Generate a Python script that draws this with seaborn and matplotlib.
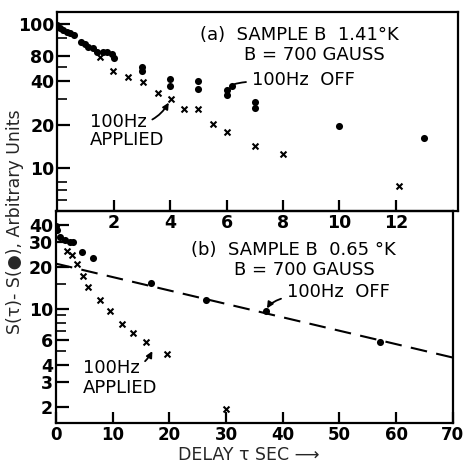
import numpy as np
import pandas as pd
import matplotlib
matplotlib.use("Agg")
import matplotlib.pyplot as plt
import seaborn as sns
from matplotlib.ticker import FixedLocator, FixedFormatter, NullFormatter

# --- data ---
# (a) sample B, 1.41 K, 100 Hz off (dots)
a_off_x = [0.0, 0.09, 0.19, 0.34, 0.44, 0.58, 0.83, 0.97, 1.08, 1.26, 1.4, 1.61, 1.75, 1.93, 2.0,
           3.0, 3.0, 4.0, 4.0, 5.0, 5.0, 6.0, 6.0, 6.2, 7.0, 7.0, 10.0, 13.0]
a_off_y = [98, 93.8, 90.9, 88, 86.6, 83.9, 75, 72.6, 69.2, 68.1, 63.9, 63.9, 63.9, 61.9, 58,
           50.3, 47.2, 41.5, 37.1, 40.1, 35.4, 32.1, 34.8, 37.1, 28.7, 26.1, 19.6, 16.2]
# (a) 100 Hz applied (crosses)
a_app_x = [1.5, 1.96, 2.5, 3.03, 3.56, 4.02, 4.48, 5.0, 5.5, 6.03, 6.99, 8.0, 12.1]
a_app_y = [59, 47.2, 42.9, 39.5, 33.2, 30.1, 25.7, 25.7, 20.2, 17.8, 14.2, 12.5, 7.5]

# (b) sample B, 0.65 K, 100 Hz off (dots)
b_off_x = [0.0, 0.18, 0.7, 1.6, 2.5, 3.0, 4.6, 6.5, 16.8, 26.4, 37.0, 57.2]
b_off_y = [39, 36.7, 32.7, 31.1, 30.1, 30.1, 25.5, 23.1, 15.3, 11.6, 9.7, 5.8]
# (b) 100 Hz applied (crosses)
b_app_x = [1.9, 2.8, 3.7, 4.8, 5.7, 7.8, 9.6, 11.7, 13.6, 15.8, 19.6, 29.9]
b_app_y = [26.0, 24.3, 21.0, 17.2, 14.4, 11.6, 9.7, 7.8, 6.7, 5.8, 4.8, 1.93]
# (b) dashed exponential through the "off" points
b_fit_x = [0, 70]
b_fit_y = [21.1, 4.5]

a_xticks = [2, 4, 6, 8, 10, 12]
a_yticks = [10, 20, 40, 60, 100]
a_ylabels = ["10", "20", "40", "80", "100"]
a_yminor = [6, 7, 8, 30, 50, 80]
b_xticks = [0, 10, 20, 30, 40, 50, 60, 70]
b_yticks = [2, 3, 4, 6, 10, 20, 30, 40]
b_yminor = [5, 7, 8, 9, 15]

sns.set_style("ticks")
plt.rcParams['font.family'] = ['DejaVu Sans']

fig = plt.figure(figsize=(4.63, 4.66), dpi=100)
ax_a = fig.add_axes([0.124, 0.547, 0.865, 0.427])
ax_b = fig.add_axes([0.121, 0.092, 0.857, 0.455])
# keep (a)'s x tick labels visible over (b)
ax_a.set_zorder(3)
ax_a.patch.set_alpha(0)

for ax in (ax_a, ax_b):
    ax.set_yscale('log')
    for sp in ax.spines.values():
        sp.set_linewidth(1.6)
        sp.set_color('black')
    ax.tick_params(which='major', direction='in', length=9, width=1.6,
                   labelsize=12.5, colors='black', pad=2)
    ax.tick_params(which='minor', direction='in', length=7, width=1.4)
    ax.tick_params(axis='x', which='major', length=8)

# --- panel (a) ---
sns.scatterplot(x=a_off_x, y=a_off_y, ax=ax_a, color='black', marker='o', s=26,
                edgecolor='black', linewidth=0, zorder=3)
sns.scatterplot(x=a_app_x, y=a_app_y, ax=ax_a, color='black', marker='x', s=18,
                linewidth=1.5, zorder=3)
ax_a.set_xlim(0, 14.2)
ax_a.set_ylim(5.0, 121)
ax_a.set_xticks(a_xticks)
ax_a.set_xticklabels([str(t) for t in a_xticks], fontweight='bold')
ax_a.yaxis.set_major_locator(FixedLocator(a_yticks))
ax_a.yaxis.set_major_formatter(FixedFormatter(a_ylabels))
ax_a.yaxis.set_minor_locator(FixedLocator(a_yminor))
ax_a.yaxis.set_minor_formatter(NullFormatter())
for lab in ax_a.get_yticklabels():
    lab.set_fontweight('bold')
ax_a.set_xlabel('')
ax_a.set_ylabel('')

txt = dict(fontsize=13, color='black', va='center', ha='left')
ax_a.text(0.355, 0.884, "(a)  SAMPLE B  1.41°K", transform=ax_a.transAxes, **txt)
ax_a.text(0.466, 0.784, "B = 700 GAUSS", transform=ax_a.transAxes, **txt)
ax_a.annotate("100Hz  OFF", xy=(a_off_x[23], a_off_y[23]), xytext=(0.486, 0.658),
              textcoords='axes fraction', **txt,
              arrowprops=dict(arrowstyle='-', color='black', lw=1.3,
                              connectionstyle='angle3,angleA=0,angleB=80', shrinkB=2))
ax_a.annotate("100Hz", xy=(a_app_x[5], a_app_y[5]), xytext=(0.081, 0.447),
              textcoords='axes fraction', **txt,
              arrowprops=dict(arrowstyle='-|>', color='black', lw=1.3, mutation_scale=9,
                              connectionstyle='arc3,rad=0.4', shrinkB=3))
ax_a.text(0.081, 0.357, "APPLIED", transform=ax_a.transAxes, **txt)

# --- panel (b) ---
sns.lineplot(x=b_fit_x, y=b_fit_y, ax=ax_b, color='black', linewidth=1.5, zorder=2)
ax_b.lines[-1].set_dashes((8, 4.5))
sns.scatterplot(x=b_off_x, y=b_off_y, ax=ax_b, color='black', marker='o', s=26,
                edgecolor='black', linewidth=0, zorder=3)
sns.scatterplot(x=b_app_x, y=b_app_y, ax=ax_b, color='black', marker='x', s=18,
                linewidth=1.5, zorder=3)
ax_b.set_xlim(0, 70)
ax_b.set_ylim(1.53, 50.1)
ax_b.set_xticks(b_xticks)
ax_b.set_xticklabels([str(t) for t in b_xticks], fontweight='bold', fontsize=12)
ax_b.yaxis.set_major_locator(FixedLocator(b_yticks))
ax_b.yaxis.set_major_formatter(FixedFormatter([str(t) for t in b_yticks]))
ax_b.yaxis.set_minor_locator(FixedLocator(b_yminor))
ax_b.yaxis.set_minor_formatter(NullFormatter())
for lab in ax_b.get_yticklabels():
    lab.set_fontweight('bold')
ax_b.set_xlabel('')
ax_b.set_ylabel('')

ax_b.text(0.34, 0.816, "(b)  SAMPLE B  0.65 °K", transform=ax_b.transAxes, **txt)
ax_b.text(0.449, 0.722, "B = 700 GAUSS", transform=ax_b.transAxes, **txt)
ax_b.annotate("100Hz  OFF", xy=(b_off_x[10], b_off_y[10]), xytext=(0.582, 0.618),
              textcoords='axes fraction', **txt,
              arrowprops=dict(arrowstyle='-|>', color='black', lw=1.3, mutation_scale=9,
                              connectionstyle='angle3,angleA=0,angleB=70', shrinkB=2))
ax_b.annotate("100Hz", xy=(17.0, 5.0), xytext=(0.068, 0.259),
              textcoords='axes fraction', **txt,
              arrowprops=dict(arrowstyle='-|>', color='black', lw=1.3, mutation_scale=9,
                              connectionstyle='arc3,rad=0.4', shrinkB=0))
ax_b.text(0.068, 0.165, "APPLIED", transform=ax_b.transAxes, **txt)

fig.text(0.032, 0.524, "S(τ)- S(●), Arbitrary Units", rotation=90,
         ha='center', va='center', fontsize=12.5)
fig.text(0.385, 0.024, "DELAY τ SEC ⟶", ha='left', va='center', fontsize=12.5)

fig.savefig("out.png", dpi=100)
